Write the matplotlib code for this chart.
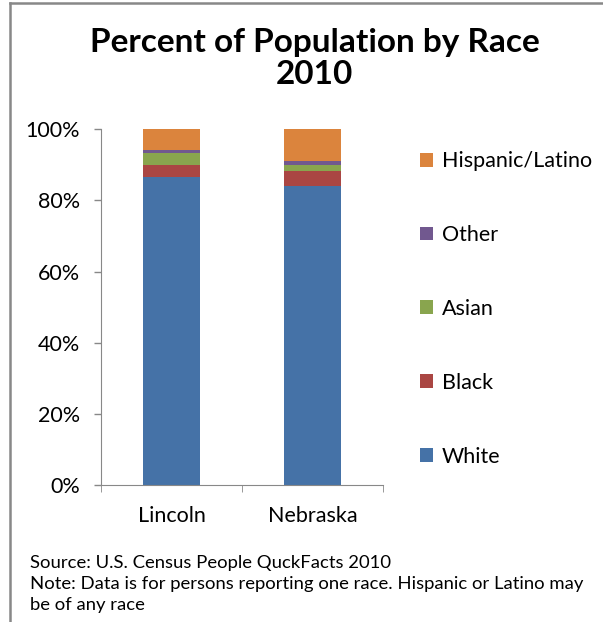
import numpy as np
import matplotlib.pyplot as plt
from matplotlib.patches import Patch
from matplotlib.lines import Line2D

plt.rcParams['font.family'] = ['Lato', 'DejaVu Sans']

# Data (share of population, %)
places = ['Lincoln', 'Nebraska']
races = ['White', 'Black', 'Asian', 'Other', 'Hispanic/Latino']
white = [86.6, 84.0]
black = [3.5, 4.3]
asian = [3.3, 1.7]
other = [0.9, 1.0]
hispanic = [5.7, 9.0]
colors = ['#4572A7', '#AA4643', '#89A54E', '#71588F', '#DB843D']

series = [white, black, asian, other, hispanic]
totals = np.sum(series, axis=0)

fig = plt.figure(figsize=(6.03, 6.22), dpi=100)
ax = fig.add_axes([0.1675, 0.2203, 0.4677, 0.5718])

x = np.arange(len(places))
bottom = np.zeros(len(places))
for vals, c, name in zip(series, colors, races):
    share = np.array(vals) / totals
    ax.bar(x, share, width=0.4, bottom=bottom, color=c, label=name, zorder=2)
    bottom += share

ax.set_xlim(-0.5, 1.5)
ax.set_ylim(0, 1)
ax.set_yticks(np.arange(0, 1.01, 0.2))
ax.set_yticklabels([f'{int(round(v*100))}%' for v in np.arange(0, 1.01, 0.2)])
ax.set_xticks(x)
ax.set_xticklabels(places)
ax.set_xticks([-0.5, 0.5, 1.5], minor=True)
ax.tick_params(axis='x', which='major', length=0, pad=15, labelsize=15.5)
ax.tick_params(axis='x', which='minor', length=5, color='#888888', direction='out')
ax.tick_params(axis='y', length=5, color='#888888', width=1, pad=10, labelsize=15.5)
for s in ['top', 'right']:
    ax.spines[s].set_visible(False)
for s in ['left', 'bottom']:
    ax.spines[s].set_color('#888888')

# Legend, reverse order like the stack
handles = [Patch(facecolor=c) for c in colors][::-1]
fig.legend(handles, races[::-1], loc='upper left', bbox_to_anchor=(0.664, 0.788),
           frameon=False, fontsize=15.5, handlelength=0.62, handleheight=0.62,
           handletextpad=0.4, labelspacing=2.50)

fig.text(0.522, 0.932, 'Percent of Population by Race', ha='center', va='center',
         fontsize=24, fontweight='bold')
fig.text(0.522, 0.881, '2010', ha='center', va='center', fontsize=24, fontweight='bold')

fig.text(0.05, 0.095, 'Source: U.S. Census People QuckFacts 2010', fontsize=13.3, va='center')
fig.text(0.05, 0.061, 'Note: Data is for persons reporting one race. Hispanic or Latino may',
         fontsize=13.3, va='center')
fig.text(0.05, 0.027, 'be of any race', fontsize=13.3, va='center')

# outer chart border (top and left visible)
fig.add_artist(Line2D([0.017, 0.017], [0, 0.995], color='#888888', lw=1.8, transform=fig.transFigure))
fig.add_artist(Line2D([0.017, 1.0], [0.995, 0.995], color='#888888', lw=1.8, transform=fig.transFigure))

fig.savefig('out.png', dpi=100)
